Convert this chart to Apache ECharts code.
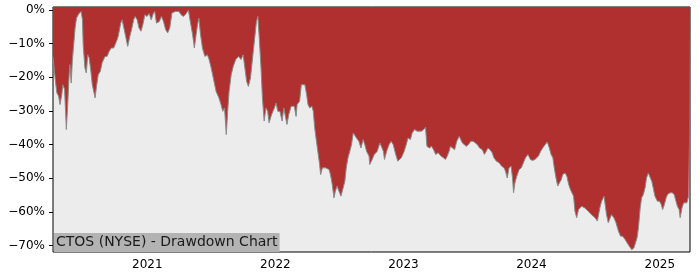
<!DOCTYPE html>
<html><head><meta charset="utf-8">
<script src="https://cdn.jsdelivr.net/npm/echarts@6/dist/echarts.min.js"></script>
<style>html,body{margin:0;padding:0;background:#fff}#c{width:700px;height:280px}</style>
</head><body><div id="c"></div>
<script>
const dates = [
'2020-04-07','2020-04-14','2020-04-18','2020-04-23','2020-04-27','2020-05-02','2020-05-05','2020-05-10','2020-05-15','2020-05-19',
'2020-05-22','2020-05-25','2020-05-29','2020-06-01','2020-06-05','2020-06-09','2020-06-13','2020-06-19','2020-06-26','2020-06-30',
'2020-07-02','2020-07-07','2020-07-11','2020-07-15','2020-07-19','2020-07-24','2020-07-28','2020-08-02','2020-08-05','2020-08-09',
'2020-08-14','2020-08-20','2020-08-25','2020-09-02','2020-09-08','2020-09-14','2020-09-20','2020-09-27','2020-10-05','2020-10-10',
'2020-10-17','2020-10-21','2020-10-26','2020-10-31','2020-11-06','2020-11-12','2020-11-17','2020-11-23','2020-11-27','2020-12-03',
'2020-12-08','2020-12-14','2020-12-19','2020-12-25','2020-12-31','2021-01-06','2021-01-12','2021-01-18','2021-01-22','2021-01-27',
'2021-02-04','2021-02-10','2021-02-16','2021-02-22','2021-02-28','2021-03-06','2021-03-12','2021-03-22','2021-04-01','2021-04-07',
'2021-04-14','2021-04-22','2021-04-28','2021-05-03','2021-05-05','2021-05-10','2021-05-15','2021-05-20','2021-05-24','2021-05-28',
'2021-06-01','2021-06-07','2021-06-14','2021-06-21','2021-06-26','2021-07-02','2021-07-09','2021-07-16','2021-07-24','2021-07-30',
'2021-08-04','2021-08-09','2021-08-14','2021-08-18','2021-08-22','2021-08-28','2021-09-03','2021-09-10','2021-09-18','2021-09-25',
'2021-10-01','2021-10-06','2021-10-11','2021-10-16','2021-10-22','2021-10-28','2021-11-03','2021-11-08','2021-11-12','2021-11-16',
'2021-11-21','2021-11-25','2021-11-30','2021-12-05','2021-12-10','2021-12-14','2021-12-21','2021-12-29','2022-01-03','2022-01-08',
'2022-01-14','2022-01-20','2022-01-25','2022-01-30','2022-02-03','2022-02-08','2022-02-15','2022-02-19','2022-02-24','2022-03-01',
'2022-03-04','2022-03-11','2022-03-16','2022-03-21','2022-03-26','2022-03-31','2022-04-04','2022-04-09','2022-04-15','2022-04-19',
'2022-04-23','2022-04-28','2022-05-02','2022-05-07','2022-05-10','2022-05-15','2022-05-24','2022-06-03','2022-06-07','2022-06-12',
'2022-06-17','2022-06-21','2022-06-26','2022-07-01','2022-07-07','2022-07-12','2022-07-18','2022-07-22','2022-07-27','2022-08-01',
'2022-08-06','2022-08-11','2022-08-15','2022-08-20','2022-08-27','2022-09-02','2022-09-08','2022-09-13','2022-09-18','2022-09-25',
'2022-09-27','2022-10-04','2022-10-10','2022-10-18','2022-10-26','2022-10-30','2022-11-05','2022-11-08','2022-11-14','2022-11-21',
'2022-11-27','2022-12-03','2022-12-10','2022-12-16','2022-12-21','2022-12-26','2023-01-03','2023-01-09','2023-01-14','2023-01-21',
'2023-01-26','2023-02-02','2023-02-09','2023-02-14','2023-02-21','2023-02-28','2023-03-05','2023-03-09','2023-03-16','2023-03-22',
'2023-03-28','2023-04-03','2023-04-10','2023-04-18','2023-04-25','2023-05-01','2023-05-06','2023-05-11','2023-05-15','2023-05-20',
'2023-05-27','2023-06-02','2023-06-09','2023-06-13','2023-06-18','2023-06-23','2023-06-29','2023-07-05','2023-07-12','2023-07-19',
'2023-07-24','2023-07-31','2023-08-06','2023-08-14','2023-08-20','2023-08-25','2023-08-30','2023-09-05','2023-09-11','2023-09-16',
'2023-09-23','2023-10-01','2023-10-08','2023-10-15','2023-10-19','2023-10-24','2023-10-29','2023-11-04','2023-11-08','2023-11-11',
'2023-11-15','2023-11-20','2023-11-27','2023-12-03','2023-12-09','2023-12-15','2023-12-22','2023-12-29','2024-01-04','2024-01-11',
'2024-01-16','2024-01-21','2024-01-27','2024-02-02','2024-02-09','2024-02-15','2024-02-21','2024-02-26','2024-03-02','2024-03-06',
'2024-03-11','2024-03-16','2024-03-21','2024-03-26','2024-03-30','2024-04-06','2024-04-11','2024-04-16','2024-04-21','2024-04-25',
'2024-04-30','2024-05-04','2024-05-09','2024-05-14','2024-05-23','2024-06-01','2024-06-11','2024-06-20','2024-06-30','2024-07-07',
'2024-07-14','2024-07-19','2024-07-26','2024-08-02','2024-08-07','2024-08-12','2024-08-16','2024-08-23','2024-08-29','2024-09-05',
'2024-09-11','2024-09-17','2024-09-24','2024-09-30','2024-10-06','2024-10-13','2024-10-19','2024-10-24','2024-10-28','2024-11-01',
'2024-11-06','2024-11-10','2024-11-15','2024-11-20','2024-11-24','2024-11-29','2024-12-04','2024-12-09','2024-12-14','2024-12-18',
'2024-12-25','2024-12-31','2025-01-05','2025-01-09','2025-01-14','2025-01-19','2025-01-23','2025-01-30','2025-02-05','2025-02-11',
'2025-02-16','2025-02-20','2025-02-25','2025-02-28','2025-03-05','2025-03-10','2025-03-14','2025-03-19','2025-03-24','2025-03-28'
];
const drawdown = [
-13.9,-21.2,-24.6,-25.6,-28.1,-25.1,-22.2,-23.6,-35.5,-28.1,
-21.2,-16.2,-21.7,-15.2,-10.3,-5.3,-2.4,-1.2,-0.4,-2.9,
-10.3,-17.2,-18.7,-13.3,-14.2,-18.2,-22.2,-24.6,-26.1,-22.7,
-19.2,-18.2,-15.7,-13.8,-13.8,-12.3,-11.3,-11.3,-9.3,-7.8,
-3.9,-2.9,-5.3,-7.8,-10.8,-7.8,-5.8,-2.9,-1.9,-2.9,
-5.3,-6.3,-4.4,-1.4,-1.9,-1.0,-2.9,-1.0,-0.4,-3.9,
-3.4,-1.9,-3.4,-5.8,-6.8,-5.3,-0.9,-0.4,-0.4,-1.4,
-1.9,-1.0,0,-0.4,-4.4,-7.3,-11.3,-7.3,-4.4,-2.4,
-6.8,-11.3,-13.8,-13.3,-14.7,-17.2,-20.7,-24.2,-26.1,-28.1,
-30.1,-29.1,-37.0,-30.1,-24.2,-19.2,-16.7,-14.7,-13.8,-14.7,
-13.3,-17.2,-21.2,-22.7,-20.2,-14.2,-8.3,-3.4,-1.9,-8.3,
-17.2,-26.1,-33.0,-29.1,-30.1,-33.5,-31.1,-29.1,-27.6,-30.1,
-30.1,-33.0,-29.1,-28.6,-34.0,-31.1,-28.6,-29.1,-28.6,-31.6,
-28.1,-27.1,-22.2,-21.7,-22.2,-25.1,-28.1,-29.1,-28.6,-30.1,
-35.0,-39.0,-42.0,-45.9,-48.9,-46.9,-46.9,-47.4,-48.9,-51.8,
-55.8,-53.8,-52.3,-53.8,-55.3,-54.8,-50.9,-46.9,-43.9,-42.0,
-40.0,-36.5,-36.5,-38.0,-39.0,-41.0,-38.5,-40.0,-42.0,-43.4,
-45.9,-44.4,-42.9,-42.0,-39.5,-39.0,-42.0,-44.4,-42.0,-40.0,
-39.0,-40.0,-42.9,-44.9,-45.4,-43.9,-42.0,-40.0,-38.0,-38.5,
-36.5,-35.5,-36.0,-35.5,-36.0,-35.5,-34.8,-40.5,-41.0,-40.5,
-41.5,-42.9,-42.4,-43.4,-43.9,-44.4,-43.4,-42.0,-40.5,-41.0,
-41.5,-39.0,-37.5,-38.0,-39.5,-40.0,-40.5,-40.0,-39.0,-39.0,
-39.5,-40.0,-41.0,-41.5,-42.9,-42.4,-41.0,-41.5,-42.4,-43.9,
-44.9,-45.4,-46.4,-46.9,-47.9,-49.9,-46.9,-46.4,-49.9,-54.3,
-51.3,-49.4,-47.4,-46.9,-45.4,-43.9,-42.9,-44.4,-44.7,-44.4,
-44.4,-43.4,-42.0,-41.0,-40.0,-39.2,-41.0,-42.9,-43.9,-46.9,
-49.9,-52.3,-51.3,-50.4,-48.9,-48.4,-49.4,-51.8,-53.3,-53.8,
-55.3,-59.8,-61.7,-59.3,-58.3,-58.8,-59.8,-60.8,-61.7,-62.7,
-58.8,-56.8,-55.3,-60.8,-63.2,-62.7,-60.8,-61.7,-63.2,-65.7,
-67.2,-67.2,-68.2,-69.2,-70.2,-71.2,-70.7,-70.7,-67.7,-64.7,
-58.8,-55.8,-54.8,-52.8,-49.9,-48.4,-48.9,-50.9,-53.3,-55.3,
-56.8,-56.8,-57.8,-59.3,-57.8,-55.8,-54.8,-54.3,-54.3,-54.8,
-56.8,-58.3,-59.3,-61.7,-58.8,-57.3,-57.8,-57.3,-55.3,-55.3
];
const yTicks = [0,-10,-20,-30,-40,-50,-60,-70];
const xTickYears = ['2021-01-01','2022-01-01','2023-01-01','2024-01-01','2025-01-01'];
const titleText = 'CTOS (NYSE) - Drawdown Chart';

const ts = (s)=>Date.parse(s+'T00:00:00Z');
const chart = echarts.init(document.getElementById('c'), null, {renderer:'canvas'});
const seriesData = dates.map((d,i)=>[ts(d), drawdown[i]]);
const xTickVals = xTickYears.map(ts);
const font = 'DejaVu Sans';
chart.setOption({
  animation:false,
  backgroundColor:'#ffffff',
  grid:{left:53, top:7, width:637, height:245, show:true, backgroundColor:'#ececec', borderColor:'#000', borderWidth:1, containLabel:false},
  title:{text:titleText, left:54, top:233, padding:[1,2,1,2], backgroundColor:'#b3b3b3',
    textStyle:{fontFamily:font, fontSize:14, lineHeight:17, fontWeight:'normal', color:'#1a1a1a'}},
  xAxis:{type:'value', min:ts('2020-04-07'), max:ts('2025-03-28'),
    axisLine:{show:false}, splitLine:{show:false},
    axisTick:{show:true, length:4, lineStyle:{color:'#000'}, customValues:xTickVals},
    axisLabel:{customValues:xTickVals, formatter:(v)=>String(new Date(v).getUTCFullYear()), color:'#000', fontFamily:font, fontSize:12, margin:7}},
  yAxis:{type:'value', min:-71.9, max:0.9,
    axisLine:{show:false}, splitLine:{show:false},
    axisTick:{show:true, length:4, lineStyle:{color:'#000'}, customValues:yTicks},
    axisLabel:{customValues:yTicks, formatter:(v)=>(v<0?'\u2212'+Math.abs(v):String(v))+'%', color:'#000', fontFamily:font, fontSize:12, margin:8}},
  series:[{type:'line', data:seriesData, symbol:'none', smooth:false,
    lineStyle:{color:'#8a8a8a', width:1},
    areaStyle:{color:'#b03030', opacity:1, origin:'end'}, z:2}]
});
</script></body></html>
